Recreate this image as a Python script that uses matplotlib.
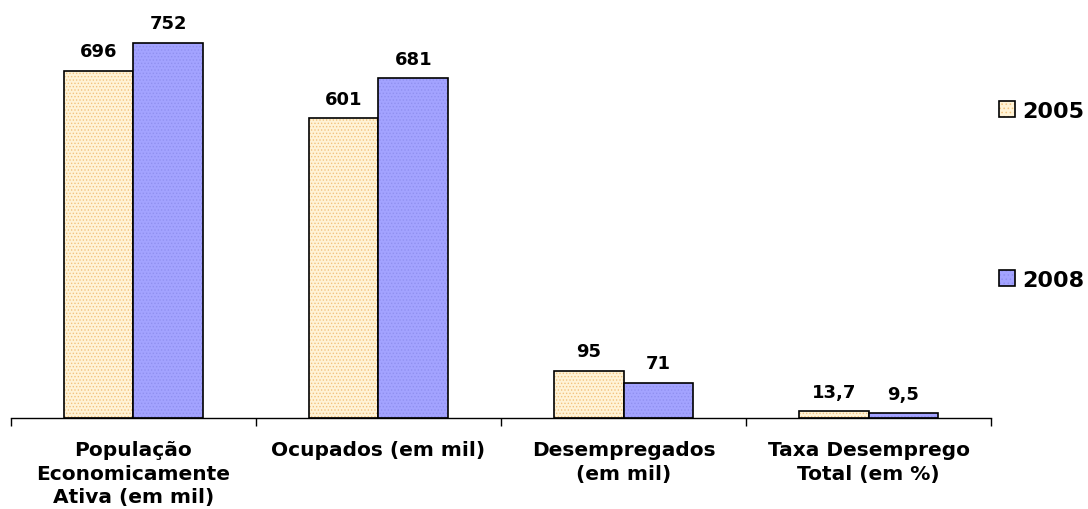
import matplotlib
matplotlib.use("Agg")
import matplotlib.pyplot as plt
import numpy as np
from matplotlib.patches import Patch
from matplotlib.legend_handler import HandlerTuple

categories = ["População\nEconomicamente\nAtiva (em mil)", "Ocupados (em mil)",
              "Desempregados\n(em mil)", "Taxa Desemprego\nTotal (em %)"]
series_names = ["2005", "2008"]
values_2005 = [696, 601, 95, 13.7]
values_2008 = [752, 681, 71, 9.5]
labels_2005 = ["696", "601", "95", "13,7"]
labels_2008 = ["752", "681", "71", "9,5"]

plt.rcParams['font.family'] = ['DejaVu Sans']
plt.rcParams['hatch.linewidth'] = 0.6

fig = plt.figure(figsize=(10.88, 5.10), dpi=100)
ax = fig.add_axes([0.010, 0.178, 0.901, 0.783])

x = np.arange(len(categories))
w = 0.285
c05, c08 = '#FFF3D6', '#A3A3FF'
h05, h08 = '#F2C27E', '#9090F0'

ax.bar(x - w/2, values_2005, w, color=c05, edgecolor=h05, hatch='.....', linewidth=0)
ax.bar(x - w/2, values_2005, w, fill=False, edgecolor='black', linewidth=1.2)
ax.bar(x + w/2, values_2008, w, color=c08, edgecolor=h08, hatch='.....', linewidth=0)
ax.bar(x + w/2, values_2008, w, fill=False, edgecolor='black', linewidth=1.2)

for xs, vals, labs in ((x - w/2, values_2005, labels_2005), (x + w/2, values_2008, labels_2008)):
    for xi, v, s in zip(xs, vals, labs):
        ax.annotate(s, (xi, v), xytext=(0, 10.5), textcoords='offset points', ha='center',
                    va='baseline', fontsize=13, fontweight='bold')

ax.set_xlim(-0.5, len(categories) - 0.5)
ax.set_ylim(0, 800)
for sp in ['top', 'right', 'left']:
    ax.spines[sp].set_visible(False)
ax.spines['bottom'].set_linewidth(1.0)
ax.set_yticks([])
ax.set_xticks(np.arange(len(categories) + 1) - 0.5)
ax.set_xticklabels([])
ax.tick_params(axis='x', length=6, width=1.0, direction='out')
ax.set_xticks(x, minor=True)
ax.set_xticklabels(categories, minor=True, fontsize=14.5, fontweight='bold', linespacing=1.28)
ax.tick_params(axis='x', which='minor', length=0, pad=16)

handles = [(Patch(facecolor=c05, edgecolor=h05, hatch='....', linewidth=0),
            Patch(fill=False, edgecolor='black', linewidth=1.2)),
           (Patch(facecolor=c08, edgecolor=h08, hatch='....', linewidth=0),
            Patch(fill=False, edgecolor='black', linewidth=1.2))]
fig.legend(handles, series_names, loc='upper left', bbox_to_anchor=(0.918, 0.80),
           handler_map={tuple: HandlerTuple(ndivide=1)},
           frameon=False, prop={'size': 16, 'weight': 'bold'}, borderpad=0, borderaxespad=0,
           handlelength=0.75, handleheight=0.7, handletextpad=0.3, labelspacing=6.7)

fig.savefig("out.png", dpi=100)
